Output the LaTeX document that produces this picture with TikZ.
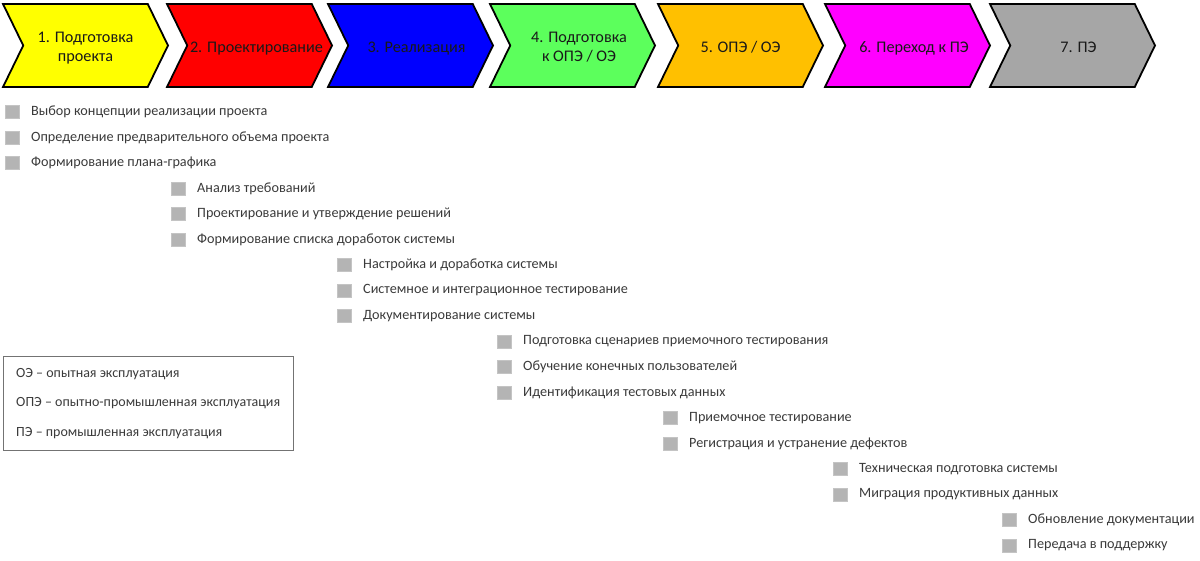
\documentclass[tikz,border=0pt]{standalone}
\usepackage{fontspec}
\setmainfont{Carlito}
\usetikzlibrary{shapes.symbols,positioning}

\definecolor{phyellow}{HTML}{FFFF00}
\definecolor{phred}{HTML}{FF0000}
\definecolor{phblue}{HTML}{0000FF}
\definecolor{phgreen}{HTML}{5CFF5C}
\definecolor{phorange}{HTML}{FFC000}
\definecolor{phmagenta}{HTML}{FF00FF}
\definecolor{phgray}{HTML}{A6A6A6}
\definecolor{bulletgray}{HTML}{B4B4B4}
\definecolor{bulletedge}{HTML}{C4C4C4}
\definecolor{textgray}{HTML}{3A3A3A}

\begin{document}
\begin{tikzpicture}[
    x=1pt, y=-1pt,
    node distance=12.5pt,
    phase/.style={signal, signal from=west, signal to=east, signal pointer angle=128, minimum width=165pt, minimum height=83pt, inner sep=0pt, draw=black, line width=1.8pt},
    phasetext/.style={align=center, text depth=0pt, inner sep=0pt, yshift=-1.5pt, font=\fontsize{16.2}{19.5}\selectfont, text=black!90},
    bullet/.style={rectangle, minimum width=14pt, minimum height=13pt, inner sep=0pt, outer sep=0pt, fill=bulletgray, draw=bulletedge, thin},
    task/.style={inner sep=1pt, font=\fontsize{14.2}{16}\selectfont, text=textgray},
    legend/.style={rectangle, draw=black!55, thin, inner xsep=12pt, minimum width=290pt, minimum height=94pt, align=left, font=\fontsize{14}{29.5}\selectfont, text=textgray}
]
\useasboundingbox (0,0) rectangle (1200,561);

% Phases
\node[phase, fill=phyellow, label={[phasetext, name=l1]center:1. Подготовка\\проекта}] (ph1) at (85.5,45.5) {};
\node[phase, fill=phred, label={[phasetext, name=l2, xshift=7pt]center:2. Проектирование}] (ph2) at (249.5,45.5) {};
\node[phase, fill=phblue, label={[phasetext, name=l3, xshift=6pt]center:3. Реализация}] (ph3) at (410.5,45.5) {};
\node[phase, fill=phgreen, label={[phasetext, name=l4, xshift=6.5pt]center:4. Подготовка\\к ОПЭ / ОЭ}] (ph4) at (572.5,45.5) {};
\node[phase, fill=phorange, label={[phasetext, name=l5]center:5. ОПЭ / ОЭ}] (ph5) at (740.5,45.5) {};
\node[phase, fill=phmagenta, label={[phasetext, name=l6, xshift=6.5pt]center:6. Переход к ПЭ}] (ph6) at (907.5,45.5) {};
\node[phase, fill=phgray, label={[phasetext, name=l7, xshift=6pt]center:7. ПЭ}] (ph7) at (1072.5,45.5) {};

% Stage 1 tasks
\node[bullet] (b11) at (12,112) {};
\node[bullet, below=of b11] (b12) {};
\node[bullet, below=of b12] (b13) {};
\node[task, right=11pt of b11] (t11) {Выбор концепции реализации проекта};
\node[task, right=11pt of b12] (t12) {Определение предварительного объема проекта};
\node[task, right=11pt of b13] (t13) {Формирование плана-графика};

% Stage 2 tasks
\node[bullet] (b21) at (178,188.5) {};
\node[bullet, below=of b21] (b22) {};
\node[bullet, below=of b22] (b23) {};
\node[task, right=11pt of b21] (t21) {Анализ требований};
\node[task, right=11pt of b22] (t22) {Проектирование и утверждение решений};
\node[task, right=11pt of b23] (t23) {Формирование списка доработок системы};

% Stage 3 tasks
\node[bullet] (b31) at (344,265) {};
\node[bullet, below=of b31] (b32) {};
\node[bullet, below=of b32] (b33) {};
\node[task, right=11pt of b31] (t31) {Настройка и доработка системы};
\node[task, right=11pt of b32] (t32) {Системное и интеграционное тестирование};
\node[task, right=11pt of b33] (t33) {Документирование системы};

% Stage 4 tasks
\node[bullet] (b41) at (504,341.5) {};
\node[bullet, below=of b41] (b42) {};
\node[bullet, below=of b42] (b43) {};
\node[task, right=11pt of b41] (t41) {Подготовка сценариев приемочного тестирования};
\node[task, right=11pt of b42] (t42) {Обучение конечных пользователей};
\node[task, right=11pt of b43] (t43) {Идентификация тестовых данных};

% Stage 5 tasks
\node[bullet] (b51) at (670,418) {};
\node[bullet, below=of b51] (b52) {};
\node[task, right=11pt of b51] (t51) {Приемочное тестирование};
\node[task, right=11pt of b52] (t52) {Регистрация и устранение дефектов};

% Stage 6 tasks
\node[bullet] (b61) at (840,469) {};
\node[bullet, below=of b61] (b62) {};
\node[task, right=11pt of b61] (t61) {Техническая подготовка системы};
\node[task, right=11pt of b62] (t62) {Миграция продуктивных данных};

% Stage 7 tasks
\node[bullet] (b71) at (1009,520) {};
\node[bullet, below=of b71] (b72) {};
\node[task, right=11pt of b71] (t71) {Обновление документации};
\node[task, right=11pt of b72] (t72) {Передача в поддержку};

% Abbreviations
\node[legend, anchor=north west] (legend) at (3,356) {ОЭ – опытная эксплуатация\\ОПЭ – опытно-промышленная эксплуатация\\ПЭ – промышленная эксплуатация};

\end{tikzpicture}
\end{document}
